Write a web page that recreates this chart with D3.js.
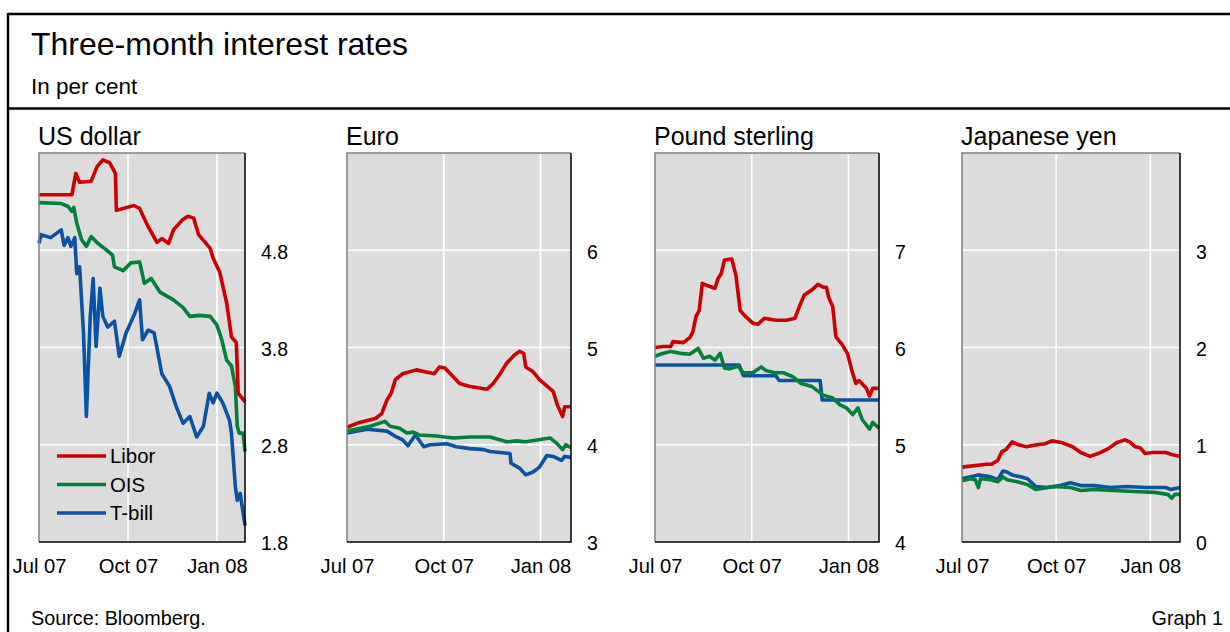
<!DOCTYPE html>
<html>
<head>
<meta charset="utf-8">
<script src="https://cdn.jsdelivr.net/npm/d3@7"></script>
<style>
  body { margin: 0; background: #fff; }
  svg { display: block; font-family: "Liberation Sans", Arial, sans-serif; }
</style>
</head>
<body>
<div id="chart"></div>
<script>
// Three-month rates, Jul 2007 - Jan 2008
var seriesNames = ["Libor", "OIS", "T-bill"];
var monthTicks = ["2007-07-01", "2007-10-01", "2008-01-01"];
var monthLabels = ["Jul 07", "Oct 07", "Jan 08"];

var usLibor = [["2007-07-01",5.37],["2007-08-04",5.37],["2007-08-08",5.59],["2007-08-12",5.50],["2007-08-24",5.51],["2007-08-30",5.66],["2007-09-05",5.73],["2007-09-12",5.70],["2007-09-18",5.59],["2007-09-19",5.21],["2007-09-26",5.23],["2007-10-07",5.26],["2007-10-13",5.23],["2007-10-22",5.04],["2007-10-31",4.88],["2007-11-05",4.92],["2007-11-12",4.87],["2007-11-17",5.01],["2007-11-26",5.11],["2007-12-02",5.15],["2007-12-08",5.13],["2007-12-13",4.96],["2007-12-25",4.82],["2007-12-28",4.72],["2008-01-04",4.57],["2008-01-11",4.26],["2008-01-16",3.91],["2008-01-21",3.85],["2008-01-23",3.33],["2008-01-30",3.24]];
var usOis = [["2007-07-01",5.29],["2007-07-24",5.28],["2007-07-31",5.25],["2007-08-04",5.20],["2007-08-06",5.24],["2007-08-09",5.08],["2007-08-14",4.91],["2007-08-19",4.84],["2007-08-24",4.94],["2007-08-31",4.87],["2007-09-09",4.80],["2007-09-15",4.75],["2007-09-17",4.63],["2007-09-26",4.59],["2007-10-04",4.67],["2007-10-13",4.68],["2007-10-18",4.46],["2007-10-25",4.51],["2007-11-03",4.37],["2007-11-17",4.29],["2007-11-27",4.21],["2007-12-04",4.12],["2007-12-14",4.13],["2007-12-25",4.12],["2008-01-01",4.03],["2008-01-06",3.88],["2008-01-11",3.67],["2008-01-16",3.61],["2008-01-20",3.40],["2008-01-22",2.99],["2008-01-24",2.92],["2008-01-28",2.92],["2008-01-30",2.73]];
var usTbill = [["2007-07-01",4.87],["2007-07-03",4.96],["2007-07-13",4.93],["2007-07-24",5.01],["2007-07-27",4.85],["2007-07-31",4.93],["2007-08-03",4.84],["2007-08-07",4.93],["2007-08-09",4.56],["2007-08-12",4.63],["2007-08-16",3.95],["2007-08-19",3.09],["2007-08-23",4.12],["2007-08-26",4.51],["2007-08-29",3.81],["2007-09-02",4.41],["2007-09-05",4.12],["2007-09-10",4.01],["2007-09-17",4.07],["2007-09-22",3.71],["2007-09-29",3.95],["2007-10-08",4.15],["2007-10-13",4.29],["2007-10-16",3.88],["2007-10-22",3.98],["2007-10-28",3.95],["2007-11-05",3.53],["2007-11-13",3.40],["2007-11-20",3.19],["2007-11-27",3.02],["2007-12-04",3.09],["2007-12-11",2.88],["2007-12-18",2.99],["2007-12-24",3.33],["2007-12-28",3.23],["2008-01-01",3.33],["2008-01-07",3.23],["2008-01-14",3.05],["2008-01-16",2.92],["2008-01-20",2.37],["2008-01-22",2.23],["2008-01-25",2.30],["2008-01-30",1.97]];

var euroLibor = [["2007-07-01",4.18],["2007-07-13",4.23],["2007-07-28",4.27],["2007-08-03",4.32],["2007-08-08",4.46],["2007-08-12",4.53],["2007-08-16",4.67],["2007-08-23",4.73],["2007-09-05",4.77],["2007-09-22",4.73],["2007-09-27",4.80],["2007-10-02",4.79],["2007-10-10",4.70],["2007-10-16",4.63],["2007-10-26",4.60],["2007-11-11",4.57],["2007-11-17",4.63],["2007-11-23",4.72],["2007-11-30",4.84],["2007-12-07",4.92],["2007-12-12",4.96],["2007-12-16",4.94],["2007-12-18",4.80],["2007-12-25",4.75],["2007-12-31",4.67],["2008-01-13",4.55],["2008-01-17",4.41],["2008-01-22",4.29],["2008-01-24",4.39],["2008-01-30",4.39]];
var euroOis = [["2007-07-01",4.14],["2007-07-23",4.19],["2007-08-06",4.24],["2007-08-11",4.19],["2007-08-20",4.17],["2007-08-27",4.12],["2007-09-02",4.13],["2007-09-08",4.10],["2007-09-24",4.09],["2007-10-10",4.07],["2007-10-26",4.08],["2007-11-14",4.08],["2007-11-30",4.03],["2007-12-09",4.04],["2007-12-18",4.03],["2008-01-10",4.07],["2008-01-16",4.02],["2008-01-22",3.95],["2008-01-25",4.00],["2008-01-30",3.97]];
var euroTbill = [["2007-07-01",4.12],["2007-07-20",4.16],["2007-08-08",4.14],["2007-08-17",4.08],["2007-08-23",4.05],["2007-08-28",3.99],["2007-09-04",4.10],["2007-09-12",3.98],["2007-09-18",4.00],["2007-10-04",4.01],["2007-10-13",3.98],["2007-10-26",3.96],["2007-11-08",3.95],["2007-11-14",3.93],["2007-12-03",3.91],["2007-12-04",3.81],["2007-12-12",3.76],["2007-12-18",3.69],["2007-12-25",3.72],["2007-12-31",3.77],["2008-01-07",3.89],["2008-01-13",3.88],["2008-01-21",3.84],["2008-01-24",3.88],["2008-01-30",3.87]];

var gbpLibor = [["2007-07-01",6.00],["2007-07-09",6.01],["2007-07-16",6.01],["2007-07-18",6.06],["2007-07-28",6.05],["2007-08-03",6.10],["2007-08-06",6.16],["2007-08-09",6.32],["2007-08-12",6.38],["2007-08-15",6.66],["2007-08-19",6.64],["2007-08-27",6.61],["2007-08-30",6.71],["2007-09-02",6.76],["2007-09-05",6.90],["2007-09-12",6.91],["2007-09-16",6.74],["2007-09-20",6.38],["2007-09-24",6.33],["2007-10-02",6.25],["2007-10-07",6.24],["2007-10-13",6.30],["2007-10-24",6.28],["2007-11-03",6.28],["2007-11-11",6.30],["2007-11-16",6.44],["2007-11-20",6.54],["2007-11-27",6.59],["2007-12-03",6.65],["2007-12-08",6.62],["2007-12-11",6.62],["2007-12-13",6.52],["2007-12-17",6.42],["2007-12-20",6.11],["2007-12-26",6.03],["2007-12-31",5.94],["2008-01-04",5.77],["2008-01-08",5.63],["2008-01-11",5.66],["2008-01-18",5.58],["2008-01-21",5.50],["2008-01-24",5.58],["2008-01-30",5.58]];
var gbpOis = [["2007-07-01",5.91],["2007-07-06",5.93],["2007-07-16",5.96],["2007-07-25",5.94],["2007-08-03",5.93],["2007-08-11",5.99],["2007-08-16",5.89],["2007-08-22",5.91],["2007-08-27",5.87],["2007-09-01",5.94],["2007-09-05",5.79],["2007-09-10",5.78],["2007-09-18",5.81],["2007-09-23",5.74],["2007-10-02",5.74],["2007-10-10",5.80],["2007-10-15",5.76],["2007-10-23",5.74],["2007-10-31",5.74],["2007-11-09",5.70],["2007-11-17",5.63],["2007-11-27",5.60],["2007-12-08",5.51],["2007-12-17",5.48],["2007-12-24",5.41],["2007-12-30",5.38],["2008-01-05",5.31],["2008-01-10",5.38],["2008-01-14",5.26],["2008-01-21",5.16],["2008-01-24",5.23],["2008-01-30",5.17]];
var gbpTbill = [["2007-07-01",5.82],["2007-09-19",5.82],["2007-09-23",5.71],["2007-10-24",5.71],["2007-10-27",5.66],["2007-12-05",5.66],["2007-12-07",5.46],["2008-01-30",5.46]];

var jpyLibor = [["2007-07-01",0.77],["2007-07-25",0.80],["2007-07-30",0.80],["2007-08-05",0.84],["2007-08-09",0.93],["2007-08-13",0.95],["2007-08-19",1.03],["2007-08-25",1.00],["2007-09-02",0.98],["2007-09-12",1.00],["2007-09-20",1.01],["2007-09-27",1.04],["2007-10-07",1.02],["2007-10-17",0.98],["2007-10-25",0.92],["2007-11-03",0.88],["2007-11-11",0.91],["2007-11-21",0.96],["2007-11-29",1.02],["2007-12-07",1.05],["2007-12-12",1.03],["2007-12-17",0.98],["2007-12-22",0.97],["2007-12-27",0.91],["2008-01-03",0.92],["2008-01-16",0.92],["2008-01-22",0.90],["2008-01-30",0.88]];
var jpyOis = [["2007-07-01",0.63],["2007-07-09",0.65],["2007-07-14",0.64],["2007-07-17",0.56],["2007-07-19",0.65],["2007-07-29",0.64],["2007-08-05",0.62],["2007-08-10",0.67],["2007-08-14",0.64],["2007-08-24",0.62],["2007-09-03",0.59],["2007-09-11",0.54],["2007-09-29",0.57],["2007-10-15",0.56],["2007-10-25",0.53],["2007-11-07",0.54],["2007-11-26",0.53],["2007-12-16",0.52],["2008-01-05",0.51],["2008-01-18",0.49],["2008-01-22",0.45],["2008-01-25",0.49],["2008-01-30",0.49]];
var jpyTbill = [["2007-07-01",0.65],["2007-07-17",0.69],["2007-07-29",0.67],["2007-08-05",0.64],["2007-08-10",0.73],["2007-08-14",0.72],["2007-08-19",0.69],["2007-08-27",0.67],["2007-09-03",0.65],["2007-09-11",0.57],["2007-09-22",0.56],["2007-10-05",0.58],["2007-10-15",0.61],["2007-10-25",0.58],["2007-11-07",0.58],["2007-11-23",0.56],["2007-12-09",0.57],["2007-12-28",0.56],["2008-01-16",0.56],["2008-01-21",0.54],["2008-01-30",0.56]];

var usTicks = [1.8, 2.8, 3.8, 4.8];
var euroTicks = [3, 4, 5, 6];
var gbpTicks = [4, 5, 6, 7];
var jpyTicks = [0, 1, 2, 3];

var width = 1230, height = 632;
var colors = ["#cc0000", "#00803a", "#0a52a3"];
var parseDate = d3.timeParse("%Y-%m-%d");
var xDomain = [parseDate("2007-07-01"), parseDate("2008-01-30")];
var plotTop = 153, plotBottom = 542;

var panels = [
    { title: "US dollar",      left: 39,  right: 245,  yDomain: [1.8, 5.8], ticks: usTicks,   fmt: ".1f", series: [usLibor, usOis, usTbill], legend: true },
    { title: "Euro",           left: 347, right: 571,  yDomain: [3, 7],     ticks: euroTicks, fmt: "d",   series: [euroLibor, euroOis, euroTbill] },
    { title: "Pound sterling", left: 655, right: 879,  yDomain: [4, 8],     ticks: gbpTicks,  fmt: "d",   series: [gbpLibor, gbpOis, gbpTbill] },
    { title: "Japanese yen",   left: 962, right: 1180, yDomain: [0, 4],     ticks: jpyTicks,  fmt: "d",   series: [jpyLibor, jpyOis, jpyTbill] }
];

var svg = d3.select("#chart").append("svg")
    .attr("width", width)
    .attr("height", height);

// frame and header
svg.append("line").attr("x1", 8).attr("x2", width).attr("y1", 14).attr("y2", 14)
    .attr("stroke", "#000").attr("stroke-width", 2.4);
svg.append("line").attr("x1", 8).attr("x2", width).attr("y1", 108.5).attr("y2", 108.5)
    .attr("stroke", "#000").attr("stroke-width", 2.4);
svg.append("line").attr("x1", 8).attr("x2", 8).attr("y1", 13).attr("y2", height)
    .attr("stroke", "#000").attr("stroke-width", 2.4);

svg.append("text").attr("x", 31).attr("y", 55)
    .style("font-size", "32px").text("Three-month interest rates");
svg.append("text").attr("x", 31).attr("y", 94)
    .style("font-size", "22.5px").text("In per cent");

svg.append("text").attr("x", 31).attr("y", 625)
    .style("font-size", "19.8px").text("Source: Bloomberg.");
svg.append("text").attr("x", 1223).attr("y", 625).attr("text-anchor", "end")
    .style("font-size", "19.8px").text("Graph 1");

panels.forEach(function(p) {
    var w = p.right - p.left, h = plotBottom - plotTop;

    var xScale = d3.scaleTime().domain(xDomain).range([0, w]);
    var yScale = d3.scaleLinear().domain(p.yDomain).range([h, 0]);

    var g = svg.append("g")
        .attr("transform", "translate(" + p.left + "," + plotTop + ")");

    svg.append("text")
        .attr("x", p.left - 1).attr("y", 145)
        .style("font-size", "25px")
        .text(p.title);

    g.append("rect")
        .attr("width", w).attr("height", h)
        .attr("fill", "#dcdcdc");

    // white grid lines
    var innerTicks = p.ticks.filter(function(t) { return t > p.yDomain[0]; });
    g.selectAll(".hgrid").data(innerTicks).enter().append("line")
        .attr("class", "hgrid")
        .attr("x1", 0).attr("x2", w)
        .attr("y1", function(d) { return yScale(d); })
        .attr("y2", function(d) { return yScale(d); })
        .attr("stroke", "#fff").attr("stroke-width", 1.6);
    g.selectAll(".vgrid").data(monthTicks.slice(1)).enter().append("line")
        .attr("class", "vgrid")
        .attr("x1", function(d) { return xScale(parseDate(d)); })
        .attr("x2", function(d) { return xScale(parseDate(d)); })
        .attr("y1", 0).attr("y2", h)
        .attr("stroke", "#fff").attr("stroke-width", 1.6);

    var line = d3.line()
        .x(function(d) { return xScale(parseDate(d[0])); })
        .y(function(d) { return yScale(d[1]); });

    // draw T-bill first so Libor ends on top
    [2, 1, 0].forEach(function(i) {
        g.append("path")
            .datum(p.series[i])
            .attr("d", line)
            .attr("fill", "none")
            .attr("stroke", colors[i])
            .attr("stroke-width", 3.6)
            .attr("stroke-linejoin", "round");
    });

    // plot border: grey top/left, black right/bottom
    g.append("path").attr("d", "M0," + h + "V0H" + w)
        .attr("fill", "none").attr("stroke", "#808080").attr("stroke-width", 1.5);
    g.append("path").attr("d", "M0," + h + "H" + w + "V0")
        .attr("fill", "none").attr("stroke", "#000").attr("stroke-width", 1.5);

    // axes
    var yAxis = d3.axisRight(yScale)
        .tickValues(p.ticks)
        .tickSize(0)
        .tickPadding(16)
        .tickFormat(d3.format(p.fmt));
    var yg = g.append("g")
        .attr("transform", "translate(" + w + ",0)")
        .call(yAxis);
    yg.select(".domain").remove();
    yg.selectAll("text").attr("dy", "0.4em").style("font-size", "19.5px").attr("fill", "#000");

    var xAxis = d3.axisBottom(xScale)
        .tickValues(monthTicks.map(parseDate))
        .tickSize(0)
        .tickPadding(17)
        .tickFormat(function(d, i) { return monthLabels[i]; });
    var xg = g.append("g")
        .attr("transform", "translate(0," + h + ")")
        .call(xAxis);
    xg.select(".domain").remove();
    xg.selectAll("text").style("font-size", "20.2px").attr("fill", "#000");

    if (p.legend) {
        var leg = g.selectAll(".legend").data(seriesNames).enter().append("g")
            .attr("class", "legend")
            .attr("transform", function(d, i) { return "translate(18," + (303 + i * 28.5) + ")"; });
        leg.append("line")
            .attr("x1", 0).attr("x2", 49)
            .attr("stroke", function(d, i) { return colors[i]; })
            .attr("stroke-width", 3.6);
        leg.append("text")
            .attr("x", 53).attr("dy", "0.36em")
            .style("font-size", "20.4px")
            .text(function(d) { return d; });
    }
});
</script>
</body>
</html>
